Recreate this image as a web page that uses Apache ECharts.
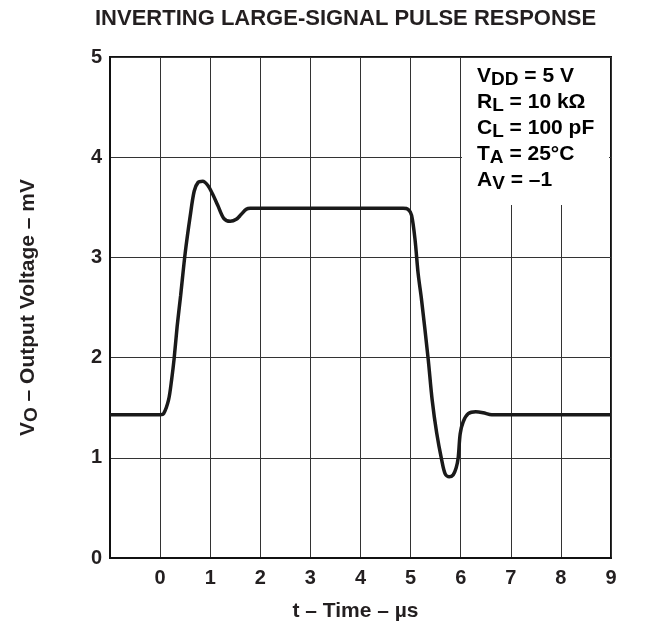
<!DOCTYPE html>
<html>
<head>
<meta charset="utf-8">
<title>Inverting large-signal pulse response</title>
<script src="https://cdn.jsdelivr.net/npm/echarts@6/dist/echarts.min.js"></script>
<style>
  html, body { margin: 0; padding: 0; background: #fff; }
  #chart { width: 645px; height: 628px; }
</style>
</head>
<body>
<div id="chart"></div>
<script>
// t - time in microseconds
const timeUs = [-1, 0, 0.07, 0.17, 0.23, 0.28, 0.34, 0.41, 0.5, 0.6, 0.68, 0.76, 0.85, 0.95,
  1.05, 1.15, 1.27, 1.4, 1.52, 1.62, 1.72, 1.8, 4.85, 4.95, 5.02, 5.09, 5.15, 5.22, 5.35,
  5.43, 5.52, 5.62, 5.69, 5.77, 5.85, 5.91, 5.95, 5.99, 6.05, 6.15, 6.3, 6.45, 6.62, 9]
// VO - output voltage (mV)
const outputMv = [1.43, 1.43, 1.44, 1.58, 1.78, 1.99, 2.31, 2.62, 3.04, 3.41, 3.66, 3.75, 3.76, 3.72,
  3.63, 3.52, 3.39, 3.36, 3.38, 3.43, 3.48, 3.49, 3.49, 3.48, 3.42, 3.17, 2.84, 2.57, 1.99,
  1.58, 1.25, 0.98, 0.84, 0.81, 0.83, 0.9, 1.0, 1.24, 1.36, 1.44, 1.46, 1.45, 1.43, 1.43]

const xTicks = [-1, 9, 1]   // min, max, step
const yTicks = [0, 5, 1]

// test conditions box: [main, subscript, rest]
const conditions = [
  ['V', 'DD', ' = 5 V'],
  ['R', 'L', ' = 10 kΩ'],
  ['C', 'L', ' = 100 pF'],
  ['T', 'A', ' = 25°C'],
  ['A', 'V', ' = –1']
]

const ink = '#231f20'
const font = 'Liberation Sans, Arial, Helvetica, sans-serif'

const richStyles = {
  m: { fontSize: 21, fontWeight: 'bold', fontFamily: font, color: ink, lineHeight: 26 },
  s: { fontSize: 19, fontWeight: 'bold', fontFamily: font, color: ink, lineHeight: 13, verticalAlign: 'bottom' }
}

const condText = conditions.map(c => `{m|${c[0]}}{s|${c[1]}}{m|${c[2]}}`).join('\n')

const chart = echarts.init(document.getElementById('chart'), null, { renderer: 'canvas' })

const option = {
  backgroundColor: '#fff',
  animation: false,
  title: {
    text: 'INVERTING LARGE-SIGNAL PULSE RESPONSE',
    left: 95,
    top: 8,
    padding: 0,
    textStyle: { fontSize: 22, fontWeight: 'bold', fontFamily: font, color: ink }
  },
  grid: {
    left: 110,
    top: 57,
    right: 34,
    bottom: 70,
    show: true,
    borderColor: '#111',
    borderWidth: 2,
    backgroundColor: 'transparent'
  },
  xAxis: {
    type: 'value',
    min: xTicks[0],
    max: xTicks[1],
    interval: xTicks[2],
    name: 't – Time – µs',
    nameLocation: 'middle',
    nameGap: 43,
    nameTextStyle: { fontSize: 21, fontWeight: 'bold', fontFamily: font, color: ink, padding: [0, 10, 0, 0] },
    axisLine: { onZero: false, lineStyle: { color: '#111', width: 2 } },
    axisTick: { show: false },
    axisLabel: {
      margin: 10,
      fontSize: 20,
      fontWeight: 'bold',
      fontFamily: font,
      color: ink,
      formatter: v => (v < 0 ? '' : String(v))
    },
    splitLine: { show: true, lineStyle: { color: '#333', width: 1 } }
  },
  yAxis: {
    type: 'value',
    min: yTicks[0],
    max: yTicks[1],
    interval: yTicks[2],
    name: '{m|V}{s|O}{m| – Output Voltage – mV}',
    nameLocation: 'middle',
    nameRotate: 90,
    nameGap: 69,
    nameTextStyle: { rich: richStyles },
    axisLine: { onZero: false, lineStyle: { color: '#111', width: 2 } },
    axisTick: { show: false },
    axisLabel: { margin: 8, fontSize: 20, fontWeight: 'bold', fontFamily: font, color: ink },
    splitLine: { show: true, lineStyle: { color: '#333', width: 1 } }
  },
  graphic: [
    {
      type: 'rect',
      z: 10,
      shape: { x: 462, y: 58, width: 147, height: 147 },
      style: { fill: '#fff' }
    },
    {
      type: 'text',
      z: 11,
      left: 477,
      top: 66,
      style: { text: condText, rich: richStyles }
    }
  ],
  series: [
    {
      type: 'line',
      data: timeUs.map((t, i) => [t, outputMv[i]]),
      smooth: 0.3,
      showSymbol: false,
      lineStyle: { color: '#1a1a1a', width: 3.5 },
      z: 5
    }
  ]
}

chart.setOption(option)
</script>
</body>
</html>
